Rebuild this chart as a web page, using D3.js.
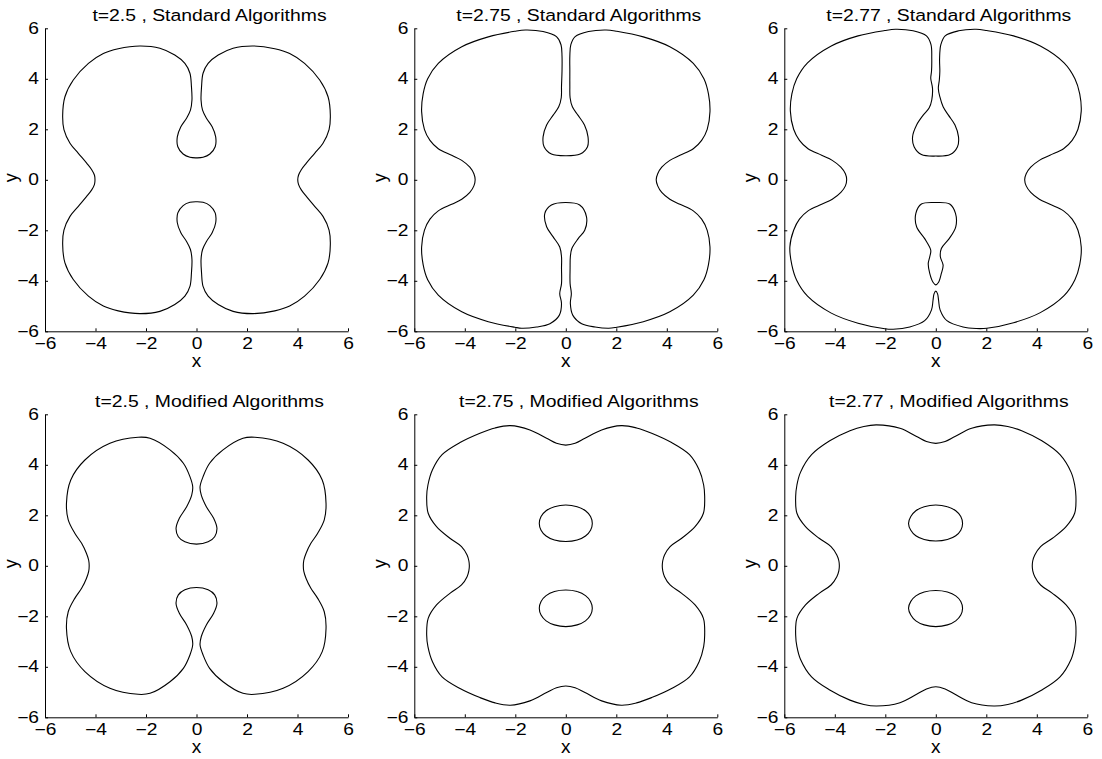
<!DOCTYPE html>
<html>
<head>
<meta charset="utf-8">
<script src="https://cdn.jsdelivr.net/npm/d3@7/dist/d3.min.js"></script>
<style>
  html, body { margin: 0; padding: 0; background: #fff; }
  svg { display: block; font-family: "Liberation Sans", Arial, Helvetica, sans-serif; }
</style>
</head>
<body>
<svg id="chart" width="1102" height="759"></svg>
<script>
// ---------- data ----------
const panelTitles = [
  "t=2.5 , Standard Algorithms", "t=2.75 , Standard Algorithms", "t=2.77 , Standard Algorithms",
  "t=2.5 , Modified Algorithms", "t=2.75 , Modified Algorithms", "t=2.77 , Modified Algorithms"
];
const xTicks = [-6, -4, -2, 0, 2, 4, 6];
const yTicks = [-6, -4, -2, 0, 2, 4, 6];
const xLabel = "x";
const yLabel = "y";

// Standard, t=2.5 (single closed level-set curve)
const std25Outer = [
  [-5.30,2.56],[-5.21,3.29],[-4.88,3.95],[-4.28,4.61],[-3.69,5.0],[-3.10,5.19],[-2.24,5.30],[-1.45,5.21],[-0.86,4.94],[-0.46,4.61],[-0.26,4.22],[-0.20,3.69],[-0.18,3.16],[-0.24,2.76],[-0.40,2.43],[-0.62,2.10],[-0.76,1.70],[-0.74,1.31],[-0.53,1.02],[-0.26,0.89],[0,0.87],
  [0.26,0.89],[0.53,1.02],[0.74,1.31],[0.76,1.70],[0.62,2.10],[0.40,2.43],[0.24,2.76],[0.18,3.16],[0.20,3.69],[0.26,4.22],[0.46,4.61],[0.86,4.94],[1.45,5.21],[2.24,5.30],[3.10,5.19],[3.69,5.0],[4.28,4.61],[4.88,3.95],[5.21,3.29],[5.30,2.56],
  [5.25,1.99],[5.01,1.45],[4.68,1.05],[4.35,0.66],[4.15,0.40],[4.04,0.18],[4.01,0],[4.04,-0.18],[4.15,-0.40],[4.35,-0.66],[4.68,-1.05],[5.01,-1.45],[5.25,-1.99],
  [5.30,-2.56],[5.21,-3.29],[4.88,-3.95],[4.28,-4.61],[3.69,-5.0],[3.10,-5.19],[2.24,-5.30],[1.45,-5.21],[0.86,-4.94],[0.46,-4.61],[0.26,-4.22],[0.20,-3.69],[0.18,-3.16],[0.24,-2.76],[0.40,-2.43],[0.62,-2.10],[0.76,-1.70],[0.74,-1.31],[0.53,-1.02],[0.26,-0.89],[0,-0.87],
  [-0.26,-0.89],[-0.53,-1.02],[-0.74,-1.31],[-0.76,-1.70],[-0.62,-2.10],[-0.40,-2.43],[-0.24,-2.76],[-0.18,-3.16],[-0.20,-3.69],[-0.26,-4.22],[-0.46,-4.61],[-0.86,-4.94],[-1.45,-5.21],[-2.24,-5.30],[-3.10,-5.19],[-3.69,-5.0],[-4.28,-4.61],[-4.88,-3.95],[-5.21,-3.29],[-5.30,-2.56],
  [-5.25,-1.99],[-5.01,-1.45],[-4.68,-1.05],[-4.35,-0.66],[-4.15,-0.40],[-4.04,-0.18],[-4.02,0],[-4.04,0.18],[-4.15,0.40],[-4.35,0.66],[-4.68,1.05],[-5.01,1.45],[-5.25,1.99]
];

// Standard, t=2.75
const std275Outer = [
  [-5.71,2.70],[-5.65,3.40],[-5.47,4.0],[-5.05,4.61],[-4.12,5.27],[-3.07,5.66],[-2.02,5.88],[-1.60,5.93],[-0.90,5.87],[-0.37,5.67],[-0.19,5.35],[-0.15,4.90],[-0.15,4.30],[-0.17,3.70],[-0.18,3.25],[-0.28,2.89],[-0.50,2.56],[-0.76,2.17],[-0.90,1.70],[-0.86,1.31],[-0.57,1.02],[0,0.95],
  [0.57,1.02],[0.86,1.31],[0.88,1.70],[0.74,2.17],[0.48,2.56],[0.26,2.89],[0.17,3.25],[0.16,3.70],[0.16,4.30],[0.16,4.90],[0.20,5.35],[0.37,5.67],[0.90,5.87],[1.60,5.93],[2.02,5.88],[3.07,5.66],[4.12,5.27],[5.05,4.61],[5.47,4.0],[5.65,3.40],[5.71,2.70],
  [5.60,2.0],[5.38,1.56],[5.05,1.23],[4.52,0.97],[4.12,0.77],[3.80,0.50],[3.64,0.24],[3.58,0],[3.64,-0.24],[3.80,-0.50],[4.12,-0.77],[4.52,-0.97],[5.05,-1.23],[5.38,-1.56],[5.60,-2.0],
  [5.71,-2.66],[5.65,-3.36],[5.47,-3.96],[5.05,-4.57],[4.12,-5.23],[3.07,-5.62],[2.02,-5.84],[1.70,-5.88],[1.16,-5.83],[0.63,-5.70],[0.28,-5.37],[0.18,-4.90],[0.22,-4.51],[0.17,-4.11],[0.17,-3.50],[0.18,-3.05],[0.24,-2.72],[0.49,-2.33],[0.75,-2.0],[0.82,-1.47],[0.55,-1.0],[0,-0.90],
  [-0.57,-1.0],[-0.83,-1.33],[-0.76,-1.86],[-0.50,-2.26],[-0.24,-2.66],[-0.17,-3.05],[-0.17,-3.50],[-0.17,-4.11],[-0.24,-4.51],[-0.17,-4.90],[-0.26,-5.37],[-0.63,-5.70],[-1.16,-5.83],[-1.75,-5.88],[-2.02,-5.84],[-3.07,-5.62],[-4.12,-5.23],[-5.05,-4.57],[-5.47,-3.96],[-5.65,-3.36],[-5.71,-2.66],
  [-5.60,-2.0],[-5.38,-1.56],[-5.05,-1.23],[-4.52,-0.97],[-4.12,-0.77],[-3.80,-0.50],[-3.64,-0.24],[-3.59,0],[-3.64,0.24],[-3.80,0.50],[-4.12,0.77],[-4.52,0.97],[-5.05,1.23],[-5.38,1.56],[-5.60,2.0]
];

// Standard, t=2.77 (outer curve + detached lower island)
const std277Outer = [
  [-5.76,2.72],[-5.70,3.40],[-5.51,4.0],[-5.08,4.63],[-4.14,5.30],[-3.08,5.70],[-2.02,5.91],[-1.60,5.96],[-0.90,5.90],[-0.37,5.70],[-0.19,5.35],[-0.16,4.80],[-0.17,4.30],[-0.20,4.02],[-0.13,3.62],[-0.16,3.16],[-0.26,2.85],[-0.50,2.56],[-0.76,2.17],[-0.92,1.70],[-0.86,1.31],[-0.57,1.0],[0,0.94],
  [0.57,1.0],[0.86,1.31],[0.90,1.70],[0.76,2.17],[0.50,2.56],[0.29,2.89],[0.16,3.29],[0.10,3.62],[0.14,3.95],[0.16,4.30],[0.15,4.80],[0.20,5.35],[0.37,5.70],[0.90,5.90],[1.60,5.96],[2.02,5.91],[3.08,5.70],[4.14,5.30],[5.08,4.63],[5.51,4.0],[5.70,3.40],[5.76,2.72],
  [5.63,2.0],[5.40,1.56],[5.06,1.23],[4.52,0.97],[4.10,0.77],[3.76,0.50],[3.58,0.24],[3.52,0],[3.58,-0.24],[3.76,-0.50],[4.10,-0.77],[4.52,-0.97],[5.06,-1.23],[5.40,-1.56],[5.63,-2.0],
  [5.76,-2.66],[5.70,-3.36],[5.51,-3.96],[5.08,-4.59],[4.14,-5.26],[3.08,-5.66],[2.02,-5.88],[1.60,-5.89],[1.08,-5.83],[0.44,-5.58],[0.17,-5.15],[0.11,-4.77],[0.07,-4.52],[0,-4.41],
  [-0.07,-4.52],[-0.11,-4.77],[-0.17,-5.15],[-0.44,-5.58],[-1.03,-5.83],[-1.69,-5.92],[-2.02,-5.90],[-3.08,-5.68],[-4.14,-5.28],[-5.08,-4.61],[-5.51,-3.98],[-5.70,-3.38],[-5.78,-2.66],
  [-5.63,-2.0],[-5.40,-1.56],[-5.06,-1.23],[-4.52,-0.97],[-4.10,-0.77],[-3.76,-0.50],[-3.58,-0.24],[-3.53,0],[-3.58,0.24],[-3.76,0.50],[-4.10,0.77],[-4.52,0.97],[-5.06,1.23],[-5.40,1.56],[-5.63,2.0]
];
const std277Inner = [
  [0,-0.90],[0.55,-0.96],[0.78,-1.33],[0.79,-1.86],[0.53,-2.33],[0.22,-2.72],[0.18,-3.05],[0.29,-3.38],[0.22,-3.71],[0.11,-4.06],[0,-4.16],
  [-0.11,-4.06],[-0.24,-3.71],[-0.30,-3.32],[-0.24,-3.05],[-0.20,-2.79],[-0.44,-2.33],[-0.76,-1.86],[-0.79,-1.33],[-0.57,-0.96]
];

// Modified, t=2.5
const mod25Outer = [
  [-5.15,2.48],[-4.98,3.40],[-4.42,4.19],[-3.43,4.85],[-2.31,5.09],[-1.84,5.05],[-1.05,4.59],[-0.52,4.06],[-0.26,3.53],[-0.15,3.13],[-0.19,2.80],[-0.39,2.34],[-0.68,1.88],[-0.81,1.49],[-0.72,1.15],[-0.46,0.95],[0,0.86],
  [0.46,0.95],[0.72,1.15],[0.81,1.49],[0.68,1.88],[0.39,2.34],[0.19,2.80],[0.14,3.13],[0.26,3.53],[0.52,4.06],[1.05,4.59],[1.84,5.05],[2.31,5.09],[3.43,4.85],[4.42,4.19],[4.98,3.40],[5.13,2.48],
  [5.06,1.82],[4.80,1.29],[4.53,0.89],[4.34,0.50],[4.25,0.22],[4.23,0],[4.25,-0.22],[4.34,-0.50],[4.53,-0.89],[4.80,-1.29],[5.06,-1.82],
  [5.13,-2.48],[4.98,-3.40],[4.42,-4.19],[3.43,-4.85],[2.31,-5.09],[1.84,-5.05],[1.05,-4.59],[0.52,-4.06],[0.26,-3.53],[0.14,-3.13],[0.19,-2.80],[0.39,-2.34],[0.68,-1.88],[0.81,-1.49],[0.72,-1.15],[0.46,-0.95],[0,-0.86],
  [-0.46,-0.95],[-0.72,-1.15],[-0.81,-1.49],[-0.68,-1.88],[-0.39,-2.34],[-0.19,-2.80],[-0.15,-3.13],[-0.26,-3.53],[-0.52,-4.06],[-1.05,-4.59],[-1.84,-5.05],[-2.31,-5.09],[-3.43,-4.85],[-4.42,-4.19],[-4.98,-3.40],[-5.15,-2.48],
  [-5.08,-1.82],[-4.82,-1.29],[-4.55,-0.89],[-4.36,-0.50],[-4.27,-0.22],[-4.25,0],[-4.27,0.22],[-4.36,0.50],[-4.55,0.89],[-4.82,1.29],[-5.08,1.82]
];

// Modified, t=2.75
const mod275Outer = [
  [-5.51,2.74],[-5.46,3.20],[-5.28,3.80],[-4.90,4.40],[-4.19,4.88],[-3.40,5.25],[-2.80,5.46],[-2.20,5.55],[-1.42,5.38],[-0.76,5.05],[-0.37,4.85],[0,4.78],
  [0.37,4.85],[0.76,5.05],[1.42,5.38],[2.20,5.55],[2.80,5.46],[3.40,5.25],[4.19,4.88],[4.90,4.40],[5.28,3.80],[5.46,3.20],[5.50,2.74],
  [5.45,2.08],[5.12,1.55],[4.59,1.09],[4.13,0.76],[3.91,0.43],[3.84,0.20],[3.82,0],[3.84,-0.20],[3.91,-0.43],[4.13,-0.76],[4.59,-1.09],[5.12,-1.55],[5.45,-2.08],
  [5.50,-2.74],[5.46,-3.20],[5.28,-3.80],[4.90,-4.40],[4.19,-4.86],[3.40,-5.22],[2.80,-5.43],[2.20,-5.52],[1.42,-5.35],[0.76,-5.02],[0.37,-4.83],[0,-4.76],
  [-0.37,-4.83],[-0.76,-5.02],[-1.42,-5.35],[-2.20,-5.52],[-2.80,-5.43],[-3.40,-5.22],[-4.19,-4.86],[-4.90,-4.40],[-5.28,-3.80],[-5.46,-3.20],[-5.51,-2.74],
  [-5.45,-2.08],[-5.12,-1.55],[-4.59,-1.09],[-4.13,-0.76],[-3.91,-0.43],[-3.84,-0.20],[-3.82,0],[-3.84,0.20],[-3.91,0.43],[-4.13,0.76],[-4.59,1.09],[-5.12,1.55],[-5.45,2.08]
];
const mod275Upper = [
  [0,2.41],[0.45,2.34],[0.78,2.18],[0.98,1.95],[1.05,1.68],[0.98,1.41],[0.78,1.18],[0.45,1.02],[0,0.96],
  [-0.45,1.02],[-0.78,1.18],[-0.98,1.41],[-1.05,1.68],[-0.98,1.95],[-0.78,2.18],[-0.45,2.34]
];
const mod275Lower = [
  [0,-0.96],[0.45,-1.02],[0.78,-1.18],[0.98,-1.41],[1.05,-1.68],[0.98,-1.95],[0.78,-2.18],[0.45,-2.34],[0,-2.41],
  [-0.45,-2.34],[-0.78,-2.18],[-0.98,-1.95],[-1.05,-1.68],[-0.98,-1.41],[-0.78,-1.18],[-0.45,-1.02]
];

// Modified, t=2.77
const mod277Outer = [
  [-5.55,2.74],[-5.50,3.20],[-5.36,3.70],[-4.92,4.40],[-4.20,4.95],[-3.40,5.35],[-2.85,5.52],[-2.35,5.58],[-1.42,5.45],[-0.76,5.12],[-0.37,4.92],[0,4.85],
  [0.37,4.92],[0.76,5.12],[1.42,5.45],[2.30,5.58],[2.85,5.52],[3.40,5.35],[4.20,4.95],[4.92,4.40],[5.36,3.70],[5.50,3.20],[5.55,2.74],
  [5.50,2.08],[5.16,1.55],[4.62,1.09],[4.15,0.76],[3.92,0.43],[3.84,0.20],[3.82,0],[3.84,-0.20],[3.92,-0.43],[4.15,-0.76],[4.62,-1.09],[5.16,-1.55],[5.50,-2.08],
  [5.55,-2.74],[5.50,-3.20],[5.36,-3.70],[4.92,-4.40],[4.20,-4.92],[3.40,-5.32],[2.85,-5.49],[2.30,-5.55],[1.42,-5.42],[0.76,-5.09],[0.37,-4.88],[0,-4.79],
  [-0.37,-4.88],[-0.76,-5.09],[-1.42,-5.42],[-2.35,-5.55],[-2.85,-5.49],[-3.40,-5.32],[-4.20,-4.92],[-4.92,-4.40],[-5.36,-3.70],[-5.50,-3.20],[-5.55,-2.74],
  [-5.50,-2.08],[-5.16,-1.55],[-4.62,-1.09],[-4.15,-0.76],[-3.92,-0.43],[-3.84,-0.20],[-3.82,0],[-3.84,0.20],[-3.92,0.43],[-4.15,0.76],[-4.62,1.09],[-5.16,1.55],[-5.50,2.08]
];
const mod277Upper = [
  [0,2.41],[0.46,2.34],[0.79,2.18],[0.99,1.95],[1.06,1.68],[0.99,1.41],[0.79,1.19],[0.46,1.04],[0,0.98],
  [-0.46,1.04],[-0.79,1.19],[-0.99,1.41],[-1.08,1.68],[-0.99,1.95],[-0.79,2.18],[-0.46,2.34]
];
const mod277Lower = [
  [0,-0.98],[0.46,-1.04],[0.79,-1.19],[0.99,-1.41],[1.06,-1.68],[0.99,-1.95],[0.79,-2.18],[0.46,-2.34],[0,-2.41],
  [-0.46,-2.34],[-0.79,-2.18],[-0.99,-1.95],[-1.08,-1.68],[-0.99,-1.41],[-0.79,-1.19],[-0.46,-1.04]
];

const panelCurves = [
  [std25Outer],
  [std275Outer],
  [std277Outer, std277Inner],
  [mod25Outer],
  [mod275Outer, mod275Upper, mod275Lower],
  [mod277Outer, mod277Upper, mod277Lower]
];

// ---------- layout ----------
const colLeft = [45, 414.3, 784.3];
const rowTop = [28.3, 414.3];
const plotW = 303, plotH = 303;
const FONT = '"Liberation Sans", Arial, Helvetica, sans-serif';
const tickStretch = 1.2, titleStretch = 1.14;

const svg = d3.select("#chart");
const fmt = d3.format("d");

panelCurves.forEach((curves, i) => {
  const c = i % 3, r = Math.floor(i / 3);
  const g = svg.append("g").attr("transform", `translate(${colLeft[c]},${rowTop[r]})`);
  const x = d3.scaleLinear().domain([-6, 6]).range([0, plotW]);
  const y = d3.scaleLinear().domain([-6, 6]).range([plotH, 0]);

  const xAxis = d3.axisBottom(x).tickValues(xTicks).tickFormat(fmt).tickSizeInner(-3).tickSizeOuter(0).tickPadding(6);
  const yAxis = d3.axisLeft(y).tickValues(yTicks).tickFormat(fmt).tickSizeInner(-3).tickSizeOuter(0).tickPadding(6);

  const gx = g.append("g").attr("transform", `translate(0,${plotH})`).call(xAxis);
  const gy = g.append("g").call(yAxis);
  [gx, gy].forEach(a => {
    a.selectAll("path.domain").attr("stroke", "#000").attr("stroke-width", 1);
    a.selectAll(".tick line").attr("stroke", "#000").attr("stroke-width", 1);
    a.selectAll(".tick text").attr("fill", "#000").style("font-size", "16px").style("font-family", FONT);
  });
  gx.selectAll(".tick text").attr("transform", `scale(${tickStretch},1)`);
  gy.selectAll(".tick text").attr("x", -6 / tickStretch).attr("transform", `scale(${tickStretch},1)`);

  const line = d3.line().x(d => x(d[0])).y(d => y(d[1])).curve(d3.curveCatmullRomClosed.alpha(0.5));
  g.selectAll("path.curve").data(curves).enter().append("path")
    .attr("class", "curve")
    .attr("d", line)
    .attr("fill", "none")
    .attr("stroke", "#000")
    .attr("stroke-width", 1.1);

  g.append("text")
    .attr("transform", `translate(${plotW / 2 + 13},-7.6) scale(${titleStretch},1)`)
    .attr("text-anchor", "middle")
    .style("font-size", "17px")
    .text(panelTitles[i]);

  g.append("text")
    .attr("x", plotW / 2).attr("y", plotH + 36)
    .attr("text-anchor", "middle")
    .style("font-size", "19px")
    .text(xLabel);

  g.append("text")
    .attr("transform", `translate(-28.5,${plotH / 2 - 2}) rotate(-90)`)
    .attr("text-anchor", "middle")
    .style("font-size", "18px")
    .text(yLabel);
});
</script>
</body>
</html>
